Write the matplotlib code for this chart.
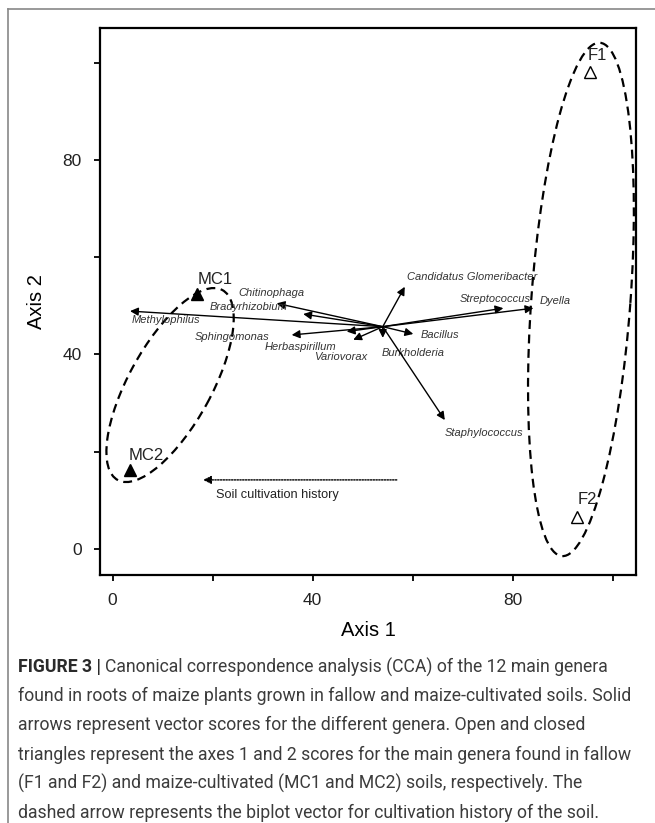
import matplotlib
matplotlib.use("Agg")
import matplotlib.pyplot as plt
from matplotlib.patches import Ellipse
from matplotlib.lines import Line2D

# --- CCA biplot data -------------------------------------------------------
ORIGIN = (54.0, 45.7)

genera = ["Methylophilus", "Chitinophaga", "Bradyrhizobium", "Sphingomonas",
          "Herbaspirillum", "Variovorax", "Burkholderia", "Bacillus",
          "Staphylococcus", "Candidatus Glomeribacter", "Streptococcus", "Dyella"]
tip_x = [3.5, 32.8, 38.1, 35.8, 46.8, 48.1, 54.0, 60.1, 66.4, 58.4, 78.1, 84.1]
tip_y = [48.9, 50.5, 48.3, 44.0, 44.7, 43.0, 43.4, 44.2, 26.5, 53.9, 49.5, 49.5]
lab_x = [10.7, 31.8, 27.1, 23.9, 37.6, 45.5, 60.1, 65.4, 74.3, 71.9, 76.4, 88.4]
lab_y = [47.1, 52.6, 49.8, 43.5, 41.5, 39.4, 40.3, 44.0, 23.9, 56.0, 51.4, 50.9]

sites = ["MC1", "MC2", "F1", "F2"]
site_x = [16.9, 3.5, 95.4, 92.8]
site_y = [52.4, 16.2, 98.1, 6.6]
site_filled = [True, True, False, False]
site_lab_x = [20.5, 6.7, 96.8, 94.8]
site_lab_y = [55.3, 19.3, 101.4, 10.1]

# group ellipses: centre, major, minor, angle
ell_cx = [11.5, 93.6]
ell_cy = [33.7, 51.3]
ell_w = [44.3, 105.8]
ell_h = [16.6, 19.8]
ell_ang = [62.0, 85.9]

# biplot vector for cultivation history
hist_from = (56.8, 14.2)
hist_to = (18.1, 14.2)

caption = [
    "Canonical correspondence analysis (CCA) of the 12 main genera",
    "found in roots of maize plants grown in fallow and maize-cultivated soils. Solid",
    "arrows represent vector scores for the different genera. Open and closed",
    "triangles represent the axes 1 and 2 scores for the main genera found in fallow",
    "(F1 and F2) and maize-cultivated (MC1 and MC2) soils, respectively. The",
    "dashed arrow represents the biplot vector for cultivation history of the soil.",
]

plt.rcParams["font.family"] = ["Liberation Sans", "DejaVu Sans"]

fig = plt.figure(figsize=(6.55, 8.23), dpi=100)
ax = fig.add_axes([100 / 655, 1 - 575 / 823, 536 / 655, 547 / 823])
ax.set_xlim(-2.5, 104.6)
ax.set_ylim(-5.35, 107.1)

for sp in ax.spines.values():
    sp.set_linewidth(1.6)

ax.set_xticks(range(0, 101, 20))
ax.set_xticklabels(["0", "", "40", "", "80", ""])
ax.set_yticks(range(0, 101, 20))
ax.set_yticklabels(["0", "", "40", "", "80", ""])
ax.tick_params(direction="out", length=4, width=1.3, labelsize=12.5, pad=9,
               colors="black", labelcolor="#222222")
ax.set_xlabel("Axis 1", fontsize=14.5, labelpad=9)
ax.set_ylabel("Axis 2", fontsize=14.5, labelpad=12)

# genus vectors
for name, tx, ty, lx, ly in zip(genera, tip_x, tip_y, lab_x, lab_y):
    ax.annotate("", xy=(tx, ty), xytext=ORIGIN,
                arrowprops=dict(arrowstyle="-|>", color="black", lw=1.0,
                                mutation_scale=12, shrinkA=0, shrinkB=0))
    ax.text(lx, ly, name, fontsize=8, style="italic", color="#333333",
            ha="center", va="center")

# site scores
for name, sx, sy, filled, lx, ly in zip(sites, site_x, site_y, site_filled,
                                        site_lab_x, site_lab_y):
    ax.plot(sx, sy, marker="^", markersize=9,
            markerfacecolor="black" if filled else "white",
            markeredgecolor="black", markeredgewidth=1.0, linestyle="none")
    ax.text(lx, ly, name, fontsize=12, color="#222222", ha="center", va="center")

for cx, cy, w, h, a in zip(ell_cx, ell_cy, ell_w, ell_h, ell_ang):
    ax.add_patch(Ellipse((cx, cy), w, h, angle=a, fill=False, ec="black",
                         lw=1.6, linestyle=(0, (4, 2.5))))

ax.annotate("", xy=hist_to, xytext=hist_from,
            arrowprops=dict(arrowstyle="-|>", color="black", lw=1.0,
                            linestyle=(0, (1, 1)), mutation_scale=12,
                            shrinkA=0, shrinkB=0))
ax.text(hist_to[0] + 2.6, hist_to[1] - 3.1, "Soil cultivation history",
        fontsize=9.2, color="#222222", ha="left", va="center")

# page frame
fig.add_artist(Line2D([8 / 655, 1], [1 - 9 / 823] * 2, color="#888888", lw=1.2))
fig.add_artist(Line2D([8 / 655] * 2, [0, 1 - 9 / 823], color="#888888", lw=1.2))

# caption
cap_font = ["Roboto", "DejaVu Sans"]
cap_size = 12.7
cap_col = "#3c3c3c"
y0 = 1 - 667 / 823
t = fig.text(18 / 655, y0, "FIGURE 3 | ", fontsize=cap_size, fontweight="bold",
             color="#2a2a2a", va="center", family=cap_font)
fig.canvas.draw()
bb = t.get_window_extent()
fig.text(bb.x1 / 655, y0, caption[0], fontsize=cap_size, color=cap_col,
         va="center", family=cap_font)
for i, line in enumerate(caption[1:], start=1):
    fig.text(18 / 655, 1 - (667 + 29.2 * i) / 823, line, fontsize=cap_size,
             color=cap_col, va="center", family=cap_font)

fig.savefig("out.png", dpi=100)
